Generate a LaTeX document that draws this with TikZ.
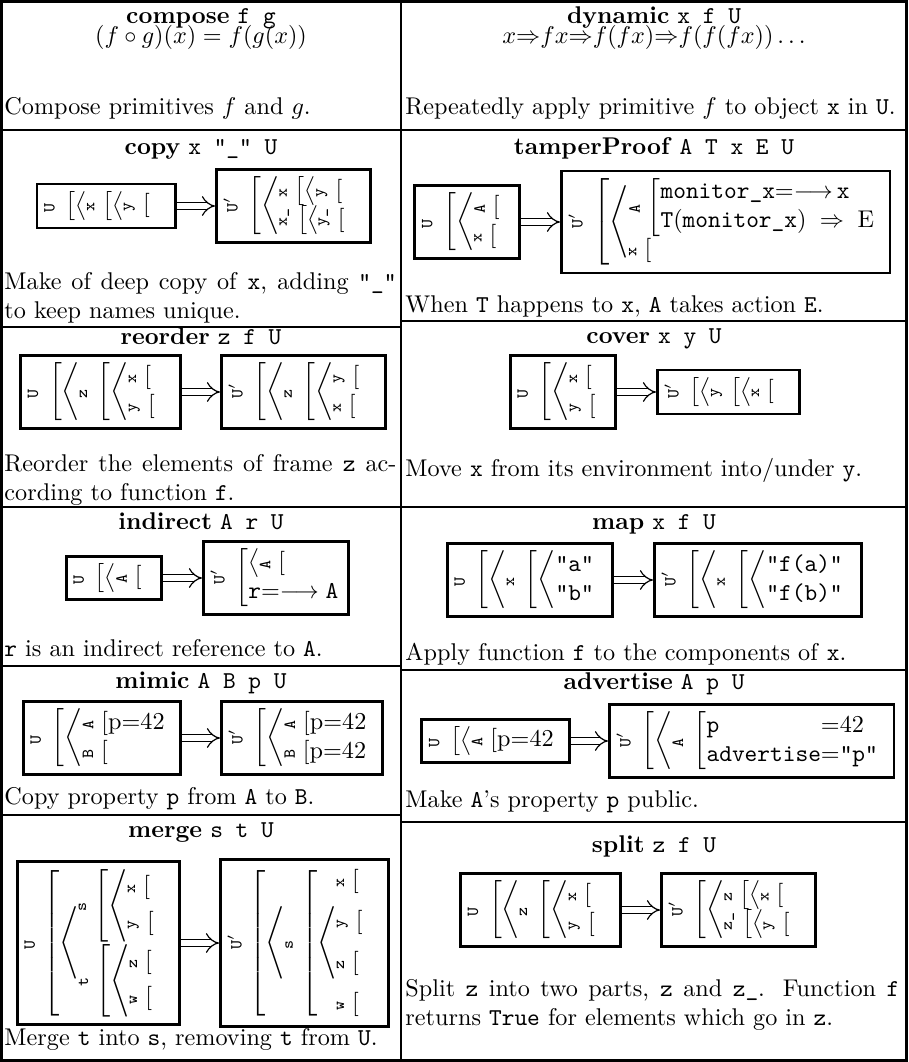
\documentclass[tikz,border=0pt]{standalone}
\usepackage{graphicx}
\usetikzlibrary{arrows.meta,positioning}

% frame notation
\newcommand{\Rot}[1]{\rotatebox{90}{\scriptsize\texttt{#1}}}
\newcommand{\Uprime}{\rotatebox{90}{\scriptsize\texttt{U}$'$}}
\newcommand{\Frm}[1]{\left[#1\right.}
\newcommand{\Lst}[1]{\left\langle\begin{array}{@{}l@{}}#1\end{array}\right.}
\newcommand{\Nil}{\left[\,\right.}

\tikzset{
  frame/.style={draw, line width=1.1pt, inner sep=3pt},
  becomes/.style={double, double distance=2.4pt, line width=.5pt, -{Implies}},
  title/.style={anchor=base, inner sep=0pt},
  desc/.style={anchor=base west, inner sep=0pt},
  rule/.style={line width=.8pt}
}

\begin{document}
\begin{tikzpicture}[x=0.4132pt, y=-0.4132pt]
\useasboundingbox (0,0) rectangle (908,1062);

% table rules
\draw[line width=1.1pt] (1.5,1.5) rectangle (906.5,1060.5);
\draw[rule] (401,1.5) -- (401,1060.5);
\draw[rule] (1.5,130) -- (906.5,130);
\foreach \y in {327,507,666,815} \draw[rule] (1.5,\y) -- (401,\y);
\foreach \y in {321,507,670,822} \draw[rule] (401,\y) -- (906.5,\y);

% compose
\node[title] (composeT) at (201,24) {\textbf{compose} \texttt{f g}};
\node[title] (composeEq) at (201,44) {$(f\circ g)(x)=f(g(x))$};
\node[desc] (composeD) at (4,114) {Compose primitives $f$ and $g$.};

% dynamic
\node[title] (dynamicT) at (654,24) {\textbf{dynamic} \texttt{x f U}};
\node[title] (dynamicEq) at (654,44) {$x{\Rightarrow}fx{\Rightarrow}f(fx){\Rightarrow}f(f(fx))\ldots$};
\node[desc] (dynamicD) at (405,114) {Repeatedly apply primitive $f$ to object \texttt{x} in \texttt{U}.};

% copy
\node[title] (copyT) at (201,155) {\textbf{copy} \texttt{x "\_" U}};
\node[frame, anchor=east] (copyA) at (177,206)
  {$\Rot{U}\;\Frm{\Lst{\Rot{x}\,\Frm{\Lst{\Rot{y}\,\Nil}}}}$};
\node[frame, anchor=west] (copyB) at (215,206)
  {$\Uprime\;\Frm{\Lst{\Rot{x}\,\Frm{\Lst{\Rot{y}\,\Nil}}\\ \Rot{x\_}\,\Frm{\Lst{\Rot{y\_}\,\Nil}}}}$};
\draw[becomes] (copyA) -- (copyB);
\node[desc, text width=162pt, align=justify] (copyD) at (4,289)
  {Make of deep copy of \texttt{x}, adding \texttt{"\_"}\linebreak to keep names unique.};

% tamperProof
\node[title] (tamperT) at (654,155) {\textbf{tamperProof} \texttt{A T x E U}};
\node[frame, anchor=east] (tamperA) at (521,222)
  {$\Rot{U}\;\Frm{\Lst{\Rot{A}\,\Nil\\ \Rot{x}\,\Nil}}$};
\node[frame, anchor=west] (tamperB) at (560,222)
  {$\Uprime\;\Frm{\Lst{\Rot{A}\,\Frm{\begin{array}{@{}l@{}}\texttt{monitor\_x}{=}{\longrightarrow}\,\texttt{x}\\ \texttt{T}(\texttt{monitor\_x})\;\Rightarrow\;\mathrm{E}\end{array}}\\[6pt] \Rot{x}\,\Nil}}$};
\draw[becomes] (tamperA) -- (tamperB);
\node[desc] (tamperD) at (405,312) {When \texttt{T} happens to \texttt{x}, \texttt{A} takes action \texttt{E}.};

% reorder
\node[title] (reorderT) at (201,344) {\textbf{reorder} \texttt{z f U}};
\node[frame, anchor=east] (reorderA) at (182,392)
  {$\Rot{U}\;\Frm{\Lst{\Rot{z}\;\Frm{\Lst{\Rot{x}\,\Nil\\ \Rot{y}\,\Nil}}}}$};
\node[frame, anchor=west] (reorderB) at (220,392)
  {$\Uprime\;\Frm{\Lst{\Rot{z}\;\Frm{\Lst{\Rot{y}\,\Nil\\ \Rot{x}\,\Nil}}}}$};
\draw[becomes] (reorderA) -- (reorderB);
\node[desc, text width=162pt, align=justify] (reorderD) at (4,471)
  {Reorder the elements of frame \texttt{z} ac-\linebreak cording to function \texttt{f}.};

% cover
\node[title] (coverT) at (654,343) {\textbf{cover} \texttt{x y U}};
\node[frame, anchor=east] (coverA) at (617,392)
  {$\Rot{U}\;\Frm{\Lst{\Rot{x}\,\Nil\\ \Rot{y}\,\Nil}}$};
\node[frame, anchor=west] (coverB) at (656,392)
  {$\Uprime\;\Frm{\Lst{\Rot{y}\,\Frm{\Lst{\Rot{x}\,\Nil}}}}$};
\draw[becomes] (coverA) -- (coverB);
\node[desc] (coverD) at (405,476) {Move \texttt{x} from its environment into/under \texttt{y}.};

% indirect
\node[title] (indirectT) at (201,529) {\textbf{indirect} \texttt{A r U}};
\node[frame, anchor=east] (indirectA) at (163,578)
  {$\Rot{U}\;\Frm{\Lst{\Rot{A}\,\Nil}}$};
\node[frame, anchor=west] (indirectB) at (202,578)
  {$\Uprime\;\Frm{\begin{array}{@{}l@{}}\Lst{\Rot{A}\,\Nil}\\ \texttt{r}{=}{\longrightarrow}\;\texttt{A}\end{array}}$};
\draw[becomes] (indirectA) -- (indirectB);
\node[desc] (indirectD) at (4,656) {\texttt{r} is an indirect reference to \texttt{A}.};

% map
\node[title] (mapT) at (654,529) {\textbf{map} \texttt{x f U}};
\node[frame, anchor=east] (mapA) at (614,580)
  {$\Rot{U}\;\Frm{\Lst{\Rot{x}\;\Frm{\Lst{\texttt{"a"}\\ \texttt{"b"}}}}}$};
\node[frame, anchor=west] (mapB) at (653,580)
  {$\Uprime\;\Frm{\Lst{\Rot{x}\;\Frm{\Lst{\texttt{"f(a)"}\\ \texttt{"f(b)"}}}}}$};
\draw[becomes] (mapA) -- (mapB);
\node[desc] (mapD) at (405,660) {Apply function \texttt{f} to the components of \texttt{x}.};

% mimic
\node[title] (mimicT) at (201,688) {\textbf{mimic} \texttt{A B p U}};
\node[frame, anchor=east] (mimicA) at (182,738)
  {$\Rot{U}\;\Frm{\Lst{\Rot{A}\,\Frm{\mbox{p=42}}\\ \Rot{B}\,\Nil}}$};
\node[frame, anchor=west] (mimicB) at (220,738)
  {$\Uprime\;\Frm{\Lst{\Rot{A}\,\Frm{\mbox{p=42}}\\ \Rot{B}\,\Frm{\mbox{p=42}}}}$};
\draw[becomes] (mimicA) -- (mimicB);
\node[desc] (mimicD) at (4,804) {Copy property \texttt{p} from \texttt{A} to \texttt{B}.};

% advertise
\node[title] (advertiseT) at (654,689) {\textbf{advertise} \texttt{A p U}};
\node[frame, anchor=east] (advertiseA) at (571,741)
  {$\Rot{U}\;\Frm{\Lst{\Rot{A}\,\Frm{\mbox{p=42}}}}$};
\node[frame, anchor=west] (advertiseB) at (608,741)
  {$\Uprime\;\Frm{\Lst{\Rot{A}\;\Frm{\begin{array}{@{}l@{}l@{}}\texttt{p} & {=}42\\ \texttt{advertise} & {=}\texttt{"p"}\end{array}}}}$};
\draw[becomes] (advertiseA) -- (advertiseB);
\node[desc] (advertiseD) at (405,807) {Make \texttt{A}'s property \texttt{p} public.};

% merge
\node[title] (mergeT) at (201,837) {\textbf{merge} \texttt{s t U}};
\node[frame, anchor=east] (mergeA) at (181,943)
  {$\Rot{U}\,\Frm{\Lst{\Rot{s}\,\Frm{\Lst{\Rot{x}\,\Nil\\[3pt] \Rot{y}\,\Nil}}\\[10pt] \Rot{t}\,\Frm{\Lst{\Rot{z}\,\Nil\\[3pt] \Rot{w}\,\Nil}}}}$};
\node[frame, anchor=west] (mergeB) at (219,943)
  {$\Uprime\,\Frm{\Lst{\Rot{s}\,\Frm{\Lst{\Rot{x}\,\Nil\\[5pt] \Rot{y}\,\Nil\\[5pt] \Rot{z}\,\Nil\\[5pt] \Rot{w}\,\Nil}}}}$};
\draw[becomes] (mergeA) -- (mergeB);
\node[desc] (mergeD) at (4,1045) {Merge \texttt{t} into \texttt{s}, removing \texttt{t} from \texttt{U}.};

% split
\node[title] (splitT) at (654,852) {\textbf{split} \texttt{z f U}};
\node[frame, anchor=east] (splitA) at (622,910)
  {$\Rot{U}\;\Frm{\Lst{\Rot{z}\;\Frm{\Lst{\Rot{x}\,\Nil\\ \Rot{y}\,\Nil}}}}$};
\node[frame, anchor=west] (splitB) at (660,910)
  {$\Uprime\;\Frm{\Lst{\Rot{z}\,\Frm{\Lst{\Rot{x}\,\Nil}}\\ \Rot{z\_}\,\Frm{\Lst{\Rot{y}\,\Nil}}}}$};
\draw[becomes] (splitA) -- (splitB);
\node[desc, text width=204pt, align=justify] (splitD) at (405,996)
  {Split \texttt{z} into two parts, \texttt{z} and \texttt{z\_}. Function \texttt{f}\linebreak returns \texttt{True} for elements which go in \texttt{z}.};
\end{tikzpicture}
\end{document}
